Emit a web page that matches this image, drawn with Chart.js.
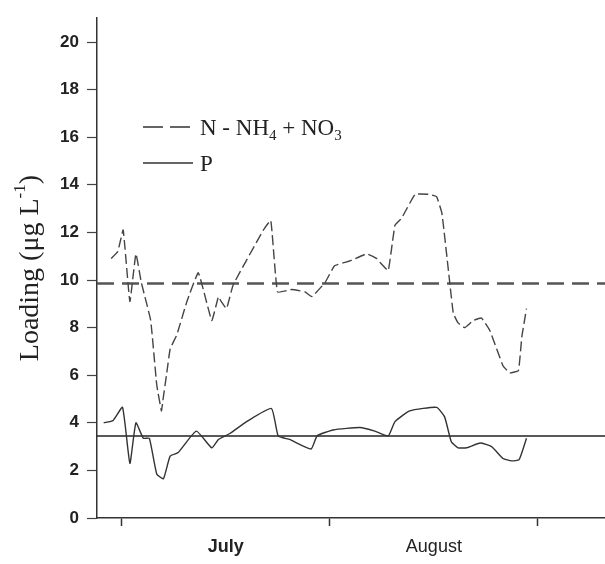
<!DOCTYPE html>
<html>
<head>
<meta charset="utf-8">
<script src="https://cdn.jsdelivr.net/npm/chart.js@4"></script>
<style>
	html, body { margin: 0; padding: 0; background: #fff; }
	#wrap { width: 605px; height: 564px; position: relative; }
</style>
</head>
<body>
<div id="wrap"><canvas id="chart" width="605" height="564"></canvas></div>
<script>
// days counted from July 1
const nDays = [-1.6, -0.6, 0.2, 1.2, 2.1, 2.9, 4.3, 5.2, 5.9, 6.1, 6.7, 7.2, 8.2, 9.7, 11.4, 13.4, 14.4, 14.8, 15.6, 16.6, 21.1, 22.2, 23.2, 25.3, 27.3, 28.3, 30.3, 31.7, 34.0, 36.5, 38.0, 38.6, 39.7, 40.7, 41.7, 43.7, 45.7, 46.9, 47.7, 48.9, 49.4, 50.1, 51.1, 52.4, 53.6, 54.8, 56.8, 57.8, 59.1, 59.6, 60.3];
const nLoad = [10.9, 11.2, 12.1, 9.1, 11.1, 9.9, 8.3, 5.6, 4.5, 4.9, 6.1, 7.1, 7.7, 9.1, 10.3, 8.3, 9.3, 9.1, 8.8, 9.8, 12.1, 12.5, 9.5, 9.6, 9.5, 9.3, 9.9, 10.6, 10.8, 11.1, 10.9, 10.7, 10.4, 12.3, 12.6, 13.6, 13.6, 13.5, 12.8, 9.8, 8.6, 8.2, 8.0, 8.3, 8.4, 7.9, 6.4, 6.1, 6.2, 7.6, 8.8];
const pDays = [-2.7, -1.3, 0.1, 1.2, 2.1, 3.2, 4.1, 5.2, 6.2, 7.2, 8.4, 11.1, 13.4, 14.4, 16.1, 18.6, 22.3, 23.3, 25.0, 28.2, 29.1, 31.5, 35.5, 37.7, 39.7, 40.7, 42.9, 46.9, 48.1, 49.1, 50.1, 51.4, 53.4, 55.1, 56.8, 58.1, 59.2, 60.3];
const pLoad = [4.0, 4.1, 4.65, 2.3, 4.0, 3.35, 3.35, 1.85, 1.65, 2.6, 2.75, 3.65, 2.95, 3.3, 3.55, 4.05, 4.6, 3.45, 3.3, 2.9, 3.45, 3.7, 3.8, 3.65, 3.45, 4.05, 4.5, 4.65, 4.25, 3.2, 2.95, 2.95, 3.15, 3.0, 2.5, 2.4, 2.45, 3.35];
const nMean = 9.85;
const pMean = 3.45;
const monthStarts = [0, 31, 62];
const monthLabels = ['July', 'August'];
const yTicks = [0, 2, 4, 6, 8, 10, 12, 14, 16, 18, 20];

const X_MIN = -3.7, X_MAX = 72;
const monthMids = monthLabels.map((m, i) => (monthStarts[i] + monthStarts[i + 1]) / 2);

const toPts = (xs, ys) => xs.map((x, i) => ({ x: x, y: ys[i] }));

const overlay = {
	id: 'overlay',
	afterDraw(chart) {
		const ctx = chart.ctx;
		const area = chart.chartArea;
		ctx.save();
		ctx.fillStyle = '#222';
		// y axis title
		ctx.translate(31, (area.top + area.bottom) / 2);
		ctx.rotate(-Math.PI / 2);
		ctx.textBaseline = 'middle';
		const big = '28px "Liberation Serif"';
		const small = '17px "Liberation Serif"';
		const parts = [
			{ t: 'Loading (\u03bcg L', f: big, dy: 0 },
			{ t: '-1', f: small, dy: -10 },
			{ t: ')', f: big, dy: 0 }
		];
		let total = 0;
		parts.forEach(p => { ctx.font = p.f; total += ctx.measureText(p.t).width; });
		let x = -total / 2;
		parts.forEach(p => {
			ctx.font = p.f;
			ctx.fillText(p.t, x, p.dy);
			x += ctx.measureText(p.t).width;
		});
		ctx.restore();

		// legend
		ctx.save();
		ctx.strokeStyle = '#333';
		ctx.lineWidth = 1.3;
		ctx.setLineDash([20, 7]);
		ctx.beginPath(); ctx.moveTo(143, 127); ctx.lineTo(193, 127); ctx.stroke();
		ctx.setLineDash([]);
		ctx.beginPath(); ctx.moveTo(143, 163); ctx.lineTo(193, 163); ctx.stroke();
		ctx.fillStyle = '#222';
		ctx.textBaseline = 'alphabetic';
		const lf = '23px "Liberation Serif"';
		const sf = '15px "Liberation Serif"';
		const leg = [
			{ t: 'N - NH', f: lf, dy: 0 },
			{ t: '4', f: sf, dy: 5 },
			{ t: ' + NO', f: lf, dy: 0 },
			{ t: '3', f: sf, dy: 5 }
		];
		let lx = 200;
		leg.forEach(p => {
			ctx.font = p.f;
			ctx.fillText(p.t, lx, 135 + p.dy);
			lx += ctx.measureText(p.t).width;
		});
		ctx.font = lf;
		ctx.fillText('P', 200, 171);
		ctx.restore();
	}
};

Chart.defaults.font.family = '"Liberation Sans", Arial, sans-serif';
Chart.defaults.color = '#222';

new Chart(document.getElementById('chart').getContext('2d'), {
	type: 'scatter',
	data: {
		datasets: [
			{
				label: 'N - NH4 + NO3',
				data: toPts(nDays, nLoad),
				showLine: true,
				borderColor: '#444',
				borderWidth: 1.4,
				borderDash: [10, 4],
				pointRadius: 0,
				tension: 0.1
			},
			{
				label: 'P',
				data: toPts(pDays, pLoad),
				showLine: true,
				borderColor: '#333',
				borderWidth: 1.4,
				pointRadius: 0,
				tension: 0.15
			},
			{
				label: 'N mean',
				data: [{ x: X_MIN, y: nMean }, { x: X_MAX, y: nMean }],
				showLine: true,
				borderColor: '#555',
				borderWidth: 2.5,
				borderDash: [17, 8],
				pointRadius: 0
			},
			{
				label: 'P mean',
				data: [{ x: X_MIN, y: pMean }, { x: X_MAX, y: pMean }],
				showLine: true,
				borderColor: '#222',
				borderWidth: 1.5,
				pointRadius: 0
			}
		]
	},
	options: {
		responsive: false,
		animation: false,
		layout: { padding: { left: 0, right: 0, top: 8, bottom: 0 } },
		plugins: {
			legend: { display: false },
			tooltip: { enabled: false }
		},
		scales: {
			x: {
				type: 'linear',
				min: X_MIN,
				max: X_MAX,
				afterBuildTicks: axis => {
					const vals = [...monthStarts, ...monthMids].sort((a, b) => a - b);
					axis.ticks = vals.map(v => ({ value: v }));
				},
				afterFit: axis => { axis.height = 46; },
				grid: {
					drawOnChartArea: false,
					drawTicks: true,
					tickLength: 8,
					tickWidth: 1.5,
					tickColor: ctx => (ctx.tick && monthStarts.includes(ctx.tick.value)) ? '#333' : 'rgba(0,0,0,0)'
				},
				border: { color: '#333', width: 1.5 },
				ticks: {
					autoSkip: false,
					maxRotation: 0,
					padding: 10,
					font: ctx => ({ size: 18, weight: (ctx.tick && ctx.tick.value === monthMids[0]) ? 'bold' : 'normal' }),
					callback: v => {
						const i = monthMids.indexOf(v);
						return i >= 0 ? monthLabels[i] : '';
					}
				}
			},
			y: {
				type: 'linear',
				min: 0,
				max: 21,
				afterBuildTicks: axis => { axis.ticks = yTicks.map(v => ({ value: v })); },
				afterFit: axis => { axis.width = 97; },
				grid: {
					drawOnChartArea: false,
					drawTicks: true,
					tickLength: 10,
					tickWidth: 1.2,
					tickColor: '#444'
				},
				border: { color: '#333', width: 1.5 },
				ticks: {
					padding: 8,
					font: { size: 17, weight: 'bold' }
				}
			}
		}
	},
	plugins: [overlay]
});
</script>
</body>
</html>
